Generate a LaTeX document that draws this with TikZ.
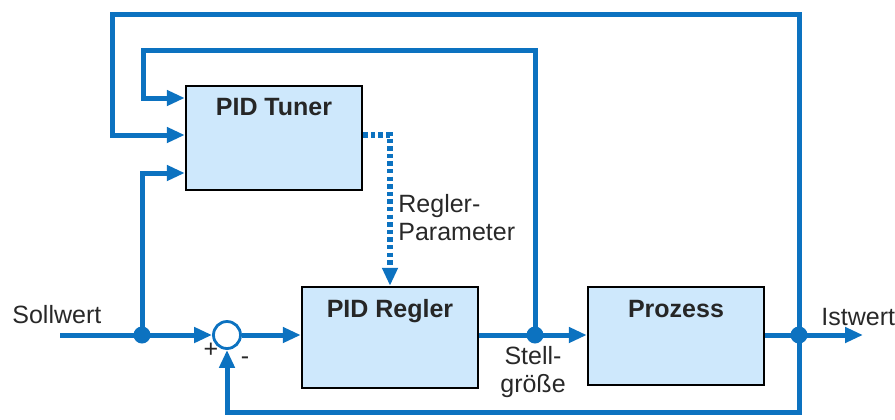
\documentclass[tikz,border=0pt]{standalone}
\usepackage{fontspec}
\setmainfont{Liberation Sans}
\usetikzlibrary{arrows.meta,calc}
\definecolor{wire}{RGB}{12,114,192}
\definecolor{boxfill}{RGB}{206,232,252}
\definecolor{ink}{RGB}{40,40,40}
\tikzset{
  wireline/.style={draw=wire, line width=2.5pt},
  arr/.style={wireline, -{Triangle[length=9pt,width=7.5pt]}},
  dotarr/.style={draw=wire, line width=2.6pt, dash pattern=on 2.2pt off 1.6pt,
                 -{Triangle[length=9pt,width=7.5pt]}},
  block/.style={draw=black, line width=1.2pt, fill=boxfill, inner sep=0pt},
  title/.style={font=\fontsize{12.5}{14}\selectfont\bfseries, text=black!85, anchor=base},
  lbl/.style={font=\fontsize{12.5}{14}\selectfont, text=ink, inner sep=0pt},
  junction/.style={circle, fill=wire, inner sep=0pt, minimum size=8.5pt},
  summer/.style={circle, draw=wire, line width=1.4pt, fill=white, inner sep=0pt, minimum size=13.5pt}
}
\begin{document}
\begin{tikzpicture}[x=0.5pt, y=-0.5pt]
\useasboundingbox (0,0) rectangle (895,419);

% blocks
\node[block, minimum width=88pt, minimum height=52pt] (tuner) at (274,138) {};
\node[block, minimum width=88pt, minimum height=50.5pt] (regler) at (390,337.5) {};
\node[block, minimum width=88pt, minimum height=49pt] (prozess) at (676,336) {};
\node[title] (ttuner) at (274,115) {PID Tuner};
\node[title] (tregler) at (390,317) {PID Regler};
\node[title] (tprozess) at (676,317) {Prozess};

% summing point and branch points
\node[summer] (sum) at (227,335) {};
\coordinate (sin) at (60,335);
\coordinate (sout) at (863,335);
\coordinate (d1) at (142,335);
\coordinate (d2) at (535,335);
\coordinate (d3) at (799,335);
\coordinate (inner) at (143,50);
\coordinate (outer) at (112,14);
\coordinate (fb) at (227,412);

% main signal path
\draw[arr] (sin) -- (sum.west);
\draw[arr] (sum.east) -- (regler.west |- sum);
\draw[arr] (regler.east |- sum) -- (prozess.west |- sum);
\draw[wireline] (prozess.east |- sum) -- (d3);
\draw[arr] (d3) -- (sout);

% feedback to the summing point
\draw[arr] (d3) |- (fb) -- (sum.south);

% inputs of the tuner
\draw[arr] (d1) |- ([yshift=-17.5pt]tuner.west);
\draw[arr] (d2) |- (inner) |- ([yshift=20pt]tuner.west);
\draw[arr] (d3) |- (outer) |- ([yshift=1.5pt]tuner.west);

% controller parameters
\draw[dotarr] ([yshift=1.5pt]tuner.east) -| (regler.north);

% junction dots
\node[junction] (j1) at (d1) {};
\node[junction] (j2) at (d2) {};
\node[junction] (j3) at (d3) {};

% labels (base = baseline of the last line)
\node[lbl, anchor=base west] (lsoll) at (12,323) {Sollwert};
\node[lbl, anchor=base west] (list) at (821,325) {Istwert};
\node[lbl, anchor=base, align=center] (lstell) at (533,392) {Stell-\\größe};
\node[lbl, anchor=base west, align=left] (lparam) at (398,240) {Regler-\\Parameter};
\node[lbl, anchor=base] (lplus) at (211,357) {+};
\node[lbl, anchor=base] (lminus) at (245,364) {-};
\end{tikzpicture}
\end{document}
